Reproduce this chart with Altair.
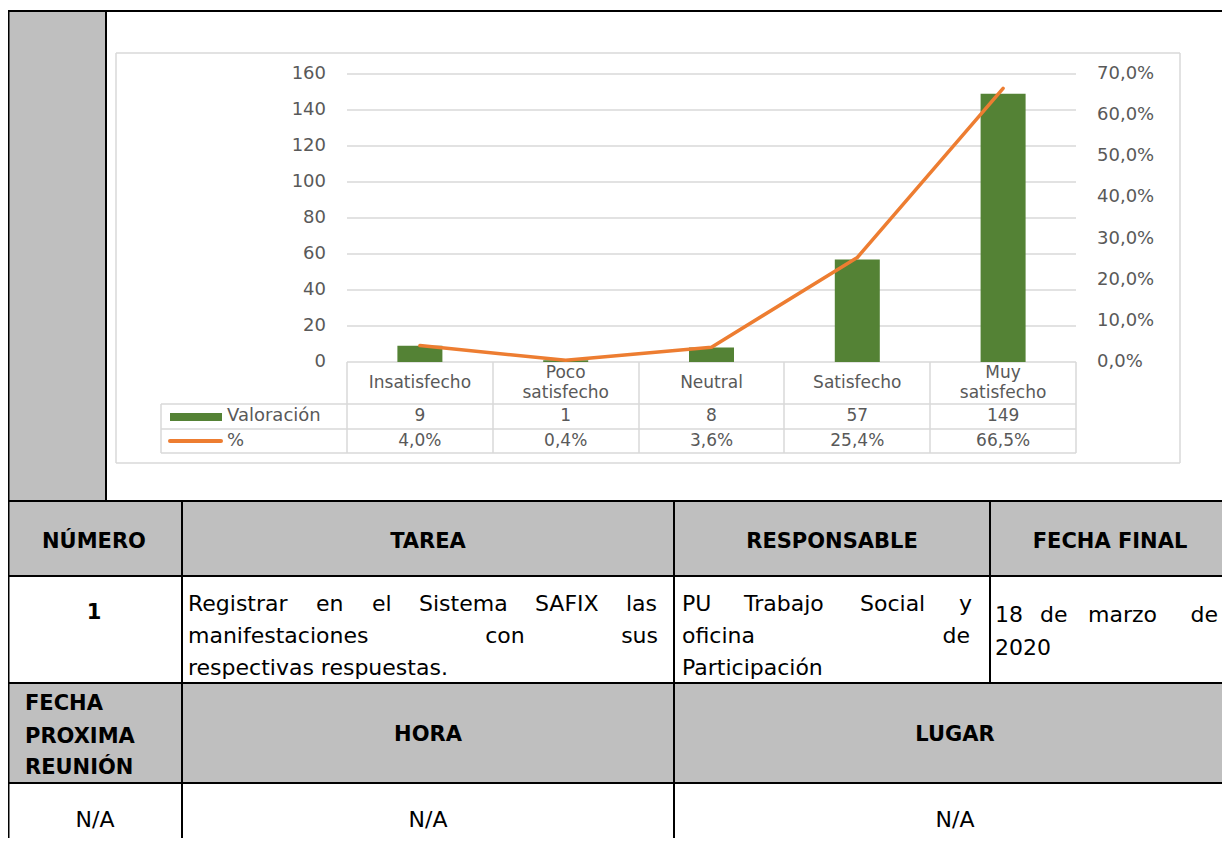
import altair as alt
import pandas as pd

# ---------------- chart data ----------------
categorias = ["Insatisfecho", "Poco satisfecho", "Neutral", "Satisfecho", "Muy satisfecho"]
etiquetas_cat = ["Insatisfecho", "Poco\nsatisfecho", "Neutral", "Satisfecho", "Muy\nsatisfecho"]
valoracion = [9, 1, 8, 57, 149]
porcentaje = [4.0, 0.4, 3.6, 25.4, 66.5]
porcentaje_txt = ["4,0%", "0,4%", "3,6%", "25,4%", "66,5%"]
ticks_izq = [0, 20, 40, 60, 80, 100, 120, 140, 160]
ticks_der = [0, 10, 20, 30, 40, 50, 60, 70]
ticks_der_txt = ["0,0%", "10,0%", "20,0%", "30,0%", "40,0%", "50,0%", "60,0%", "70,0%"]
serie_barras = "Valoración"
serie_linea = "%"

# ---------------- document table text ----------------
encabezados = ["NÚMERO", "TAREA", "RESPONSABLE", "FECHA FINAL"]
numero = "1"
tarea_l1 = ["Registrar", "en", "el", "Sistema", "SAFIX", "las"]
tarea_l2 = ["manifestaciones", "con", "sus"]
tarea_l3 = "respectivas respuestas."
resp_l1 = ["PU", "Trabajo", "Social", "y"]
resp_l2 = ["oficina", "de"]
resp_l3 = "Participación"
fecha_l1 = ["18", "de", "marzo", "de"]
fecha_l2 = "2020"
prox_lineas = ["FECHA", "PROXIMA", "REUNIÓN"]
encab2 = ["HORA", "LUGAR"]
fila_na = ["N/A", "N/A", "N/A"]

# ---------------- layout (page pixel coordinates) ----------------
OX, OY = 8, 8
W, H = 1214, 830
FONT = "DejaVu Sans"
GRIS_TXT = "#595959"
GRIS_LIN = "#d9d9d9"

PX = alt.Scale(domain=[OX, OX + W], range=[0, W], nice=False, zero=False)
PY = alt.Scale(domain=[OY, OY + H], range=[0, H], nice=False, zero=False)

XB = alt.Scale(type="band", domain=categorias, range=[347 - OX, 1076 - OX],
               paddingInner=0, paddingOuter=0)
YL = alt.Scale(domain=[0, 160], range=[362 - OY, 74 - OY], nice=False, zero=False)
YR = alt.Scale(domain=[0, 70], range=[362 - OY, 74 - OY], nice=False, zero=False)

def v(x):
    return x - OX

one = pd.DataFrame({"a": [0]})

layers = []

# gray shaded cells
fills = pd.DataFrame({"x": [7, 7, 7], "x2": [106, 1240, 1240],
                      "y": [11, 501, 683], "y2": [501, 576, 783]})
layers.append(alt.Chart(fills).mark_rect(color="#bfbfbf").encode(
    x=alt.X("x:Q", scale=PX, axis=None), x2="x2:Q",
    y=alt.Y("y:Q", scale=PY, axis=None), y2="y2:Q"))

# light grey chart frame + data-table lines
light = pd.DataFrame([
    (116, 53, 1180, 53), (116, 463, 1180, 463), (116, 53, 116, 463), (1180, 53, 1180, 463),
    (347, 362, 1076, 362), (161, 404, 1076, 404), (161, 429, 1076, 429), (161, 453, 1076, 453),
    (161, 404, 161, 453), (347, 362, 347, 453), (493, 362, 493, 453), (639, 362, 639, 453),
    (784, 362, 784, 453), (930, 362, 930, 453), (1076, 362, 1076, 453),
], columns=["x", "y", "x2", "y2"])
layers.append(alt.Chart(light).mark_rule(color=GRIS_LIN, strokeWidth=1.5).encode(
    x=alt.X("x:Q", scale=PX, axis=None), x2="x2:Q",
    y=alt.Y("y:Q", scale=PY, axis=None), y2="y2:Q"))

# gridlines
grid = pd.DataFrame({"t": ticks_izq[1:]})
layers.append(alt.Chart(grid).mark_rule(color=GRIS_LIN, strokeWidth=1.5).encode(
    y=alt.Y("t:Q", scale=YL, axis=None),
    x=alt.value(v(347)), x2=alt.value(v(1076))))

df = pd.DataFrame({"cat": categorias, "lab": etiquetas_cat, "val": valoracion,
                   "pct": porcentaje, "pct_txt": porcentaje_txt,
                   "idx": list(range(len(categorias)))})
# vertical centre of the (possibly two-line) category label inside its cell
df["ly"] = [383 - 10 * (s.count("\n")) for s in etiquetas_cat]

# bars
layers.append(alt.Chart(df).mark_bar(width=45, color="#548235").encode(
    x=alt.X("cat:N", scale=XB, axis=None),
    y=alt.Y("val:Q", scale=YL, axis=None)))

# line
layers.append(alt.Chart(df).mark_line(color="#ED7D31", strokeWidth=3.5,
                                      strokeCap="round", strokeJoin="round").encode(
    x=alt.X("cat:N", scale=XB, axis=None),
    y=alt.Y("pct:Q", scale=YR, axis=None),
    order="idx:Q"))

# left axis labels
tl = pd.DataFrame({"t": ticks_izq})
layers.append(alt.Chart(tl).mark_text(font=FONT, fontSize=18, color=GRIS_TXT,
                                      align="right", baseline="middle").encode(
    y=alt.Y("t:Q", scale=YL, axis=None), x=alt.value(v(326)), text="t:Q"))

# right axis labels
tr = pd.DataFrame({"t": ticks_der, "s": ticks_der_txt})
layers.append(alt.Chart(tr).mark_text(font=FONT, fontSize=18, color=GRIS_TXT,
                                      align="left", baseline="middle").encode(
    y=alt.Y("t:Q", scale=YR, axis=None), x=alt.value(v(1097)), text="s:N"))

# data table: categories, values, percentages
layers.append(alt.Chart(df).mark_text(font=FONT, fontSize=17, color=GRIS_TXT,
                                      baseline="middle", lineBreak="\n", lineHeight=20).encode(
    x=alt.X("cat:N", scale=XB, axis=None), y=alt.Y("ly:Q", scale=PY, axis=None), text="lab:N"))
layers.append(alt.Chart(df).mark_text(font=FONT, fontSize=17, color=GRIS_TXT,
                                      baseline="middle").encode(
    x=alt.X("cat:N", scale=XB, axis=None), y=alt.value(v(416)), text="val:Q"))
layers.append(alt.Chart(df).mark_text(font=FONT, fontSize=17, color=GRIS_TXT,
                                      baseline="middle").encode(
    x=alt.X("cat:N", scale=XB, axis=None), y=alt.value(v(441)), text="pct_txt:N"))

# legend keys in the data table
layers.append(alt.Chart(one).mark_rect(color="#548235").encode(
    x=alt.value(v(170)), x2=alt.value(v(222)), y=alt.value(v(413)), y2=alt.value(v(421))))
layers.append(alt.Chart(one).mark_rule(color="#ED7D31", strokeWidth=4, strokeCap="round").encode(
    x=alt.value(v(170)), x2=alt.value(v(221)), y=alt.value(v(441))))
leg = pd.DataFrame({"s": [serie_barras, serie_linea], "y": [416, 441]})
layers.append(alt.Chart(leg).mark_text(font=FONT, fontSize=18, color=GRIS_TXT,
                                       align="left", baseline="middle").encode(
    x=alt.value(v(227)), y=alt.Y("y:Q", scale=PY, axis=None), text="s:N"))

# black table borders
black = pd.DataFrame([
    (8, 11, 1240, 11), (8, 501, 1240, 501), (8, 576, 1240, 576), (8, 683, 1240, 683),
    (8, 783, 1240, 783),
    (8.5, 11, 8.5, 860), (106, 11, 106, 501), (182, 501, 182, 860), (674, 501, 674, 860),
    (990, 501, 990, 683),
], columns=["x", "y", "x2", "y2"])
layers.append(alt.Chart(black).mark_rule(color="#000000", strokeWidth=2).encode(
    x=alt.X("x:Q", scale=PX, axis=None), x2="x2:Q",
    y=alt.Y("y:Q", scale=PY, axis=None), y2="y2:Q"))

# document text
def txt_layer(rows, bold, align):
    d = pd.DataFrame(rows, columns=["s", "x", "y"])
    return alt.Chart(d).mark_text(font=FONT, fontSize=22 if not bold else 21,
                                  fontWeight="bold" if bold else "normal",
                                  color="#000000", align=align, baseline="middle").encode(
        x=alt.X("x:Q", scale=PX, axis=None), y=alt.Y("y:Q", scale=PY, axis=None), text="s:N")

bold_center = [(encabezados[0], 94, 542), (encabezados[1], 428, 542),
               (encabezados[2], 832, 542), (encabezados[3], 1110, 542),
               (numero, 94, 613), (encab2[0], 428, 735), (encab2[1], 955, 735)]
bold_left = [(prox_lineas[0], 25, 704), (prox_lineas[1], 25, 737), (prox_lineas[2], 25, 768)]
reg_left = [(tarea_l1[0], 188, 604), (tarea_l1[1], 316, 604), (tarea_l1[2], 372, 604),
            (tarea_l1[3], 419, 604), (tarea_l1[4], 535, 604),
            (tarea_l2[0], 188, 636), (tarea_l3, 188, 668),
            (resp_l1[0], 682, 604), (resp_l1[1], 744, 604), (resp_l1[2], 860, 604),
            (resp_l2[0], 682, 636), (resp_l3, 682, 668),
            (fecha_l1[0], 995, 615), (fecha_l1[1], 1040, 615), (fecha_l1[2], 1088, 615),
            (fecha_l2, 995, 648)]
reg_right = [(tarea_l1[5], 657, 604), (tarea_l2[2], 658, 636), (resp_l1[3], 972, 604),
             (resp_l2[1], 970, 636), (fecha_l1[3], 1218, 615)]
reg_center = [(tarea_l2[1], 505, 636), (fila_na[0], 95, 820), (fila_na[1], 428, 820),
              (fila_na[2], 955, 820)]

layers.append(txt_layer(bold_center, True, "center"))
layers.append(txt_layer(bold_left, True, "left"))
layers.append(txt_layer(reg_left, False, "left"))
layers.append(txt_layer(reg_right, False, "right"))
layers.append(txt_layer(reg_center, False, "center"))

chart = alt.layer(*layers).resolve_scale(x="independent", y="independent").properties(
    width=W, height=H, padding=0, autosize=alt.AutoSizeParams(type="none"),
    background="white"
).configure_view(stroke=None)

chart.save("out.html", embed_options={"renderer": "svg", "actions": False})
